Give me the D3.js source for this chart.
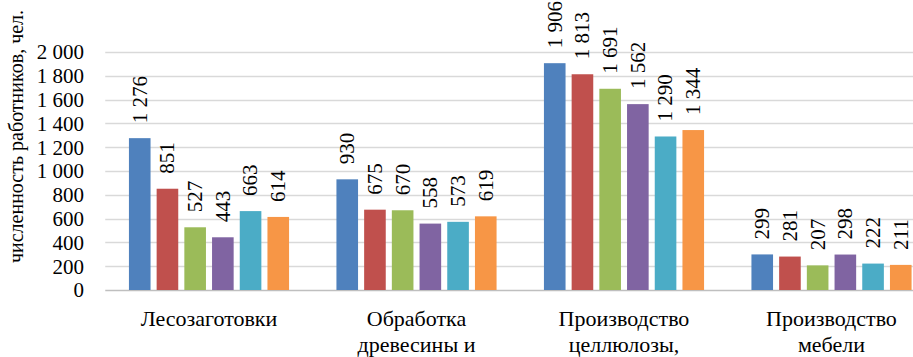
<!DOCTYPE html>
<html><head><meta charset="utf-8">
<script src="https://cdn.jsdelivr.net/npm/d3@7"></script>
</head>
<body style="margin:0"><svg id="c" width="913" height="357" font-family="Liberation Serif" style="font-family:'Liberation Serif','Times New Roman',Tinos"></svg>
<script>
const categories = [
  ["Лесозаготовки"],
  ["Обработка", "древесины и"],
  ["Производство", "целлюлозы,"],
  ["Производство", "мебели"]
];
const seriesNames = ["Ряд 1", "Ряд 2", "Ряд 3", "Ряд 4", "Ряд 5", "Ряд 6"];
const seriesValues = [
  [1276, 930, 1906, 299],
  [851, 675, 1813, 281],
  [527, 670, 1691, 207],
  [443, 558, 1562, 298],
  [663, 573, 1290, 222],
  [614, 619, 1344, 211]
];
const colors = ["#4f81bd", "#c0504d", "#9bbb59", "#8064a2", "#4bacc6", "#f79646"];
const yTicks = [0, 200, 400, 600, 800, 1000, 1200, 1400, 1600, 1800, 2000];
const yTitle = "численность работников, чел.";

const svg = d3.select("#c");
const plotLeft = 105.25, bandW = 207.5;
const plotTop = 52, plotBottom = 290;

const x0 = d3.scaleBand().domain(d3.range(categories.length))
  .range([plotLeft, plotLeft + bandW * categories.length]).padding(0);
const x1 = d3.scaleBand().domain(d3.range(seriesNames.length))
  .range([0, bandW]).paddingInner(0.22).paddingOuter(0.855);
const y = d3.scaleLinear().domain([0, 2000]).range([plotBottom, plotTop]);

const fmt = v => String(v).replace(/\B(?=(\d{3})+(?!\d))/g, " ");

function tx(sel, size) {
  return sel.attr("font-size", size).attr("font-family", "Liberation Serif")
    .style("font-family", "'Liberation Serif'").attr("fill", "#000");
}

// gridlines
svg.append("g").selectAll("line").data(yTicks).join("line")
  .attr("x1", plotLeft).attr("x2", 913)
  .attr("y1", d => Math.round(y(d)) + 0.5).attr("y2", d => Math.round(y(d)) + 0.5)
  .attr("stroke", d => d === 0 ? "#bfbfbf" : "#d9d9d9").attr("stroke-width", 1.5);

// y axis labels
const yAxis = d3.axisLeft(y).tickValues(yTicks).tickFormat(fmt).tickSize(0).tickPadding(0);
const ga = svg.append("g").attr("transform", "translate(84,0)").call(yAxis);
ga.attr("font-family", "Liberation Serif").attr("font-size", 21);
ga.select(".domain").remove();
tx(ga.selectAll("text"), 21).attr("dy", "0.33em");

// y title
tx(svg.append("text"), 20).attr("transform", "translate(16,136.5) rotate(-90)")
  .attr("text-anchor", "middle").attr("dy", "0.33em").text(yTitle);

// bars
const groups = svg.append("g").selectAll("g").data(categories).join("g")
  .attr("transform", (d, i) => `translate(${x0(i)},0)`);
groups.each(function(cat, ci) {
  const g = d3.select(this);
  seriesNames.forEach((s, si) => {
    const v = seriesValues[si][ci];
    g.append("rect").attr("x", x1(si)).attr("width", x1.bandwidth())
      .attr("y", y(v)).attr("height", y(0) - y(v)).attr("fill", colors[si]);
    tx(g.append("text"), 21)
      .attr("transform", `translate(${x1(si) + x1.bandwidth() / 2},${y(v) - 15}) rotate(-90)`)
      .attr("text-anchor", "start").attr("dy", "0.33em").text(fmt(v));
  });
  const t = tx(g.append("text"), 22).attr("text-anchor", "middle");
  cat.forEach((line, li) => {
    t.append("tspan").attr("x", bandW / 2).attr("y", 326 + li * 25.5).text(line);
  });
});
</script></body></html>
